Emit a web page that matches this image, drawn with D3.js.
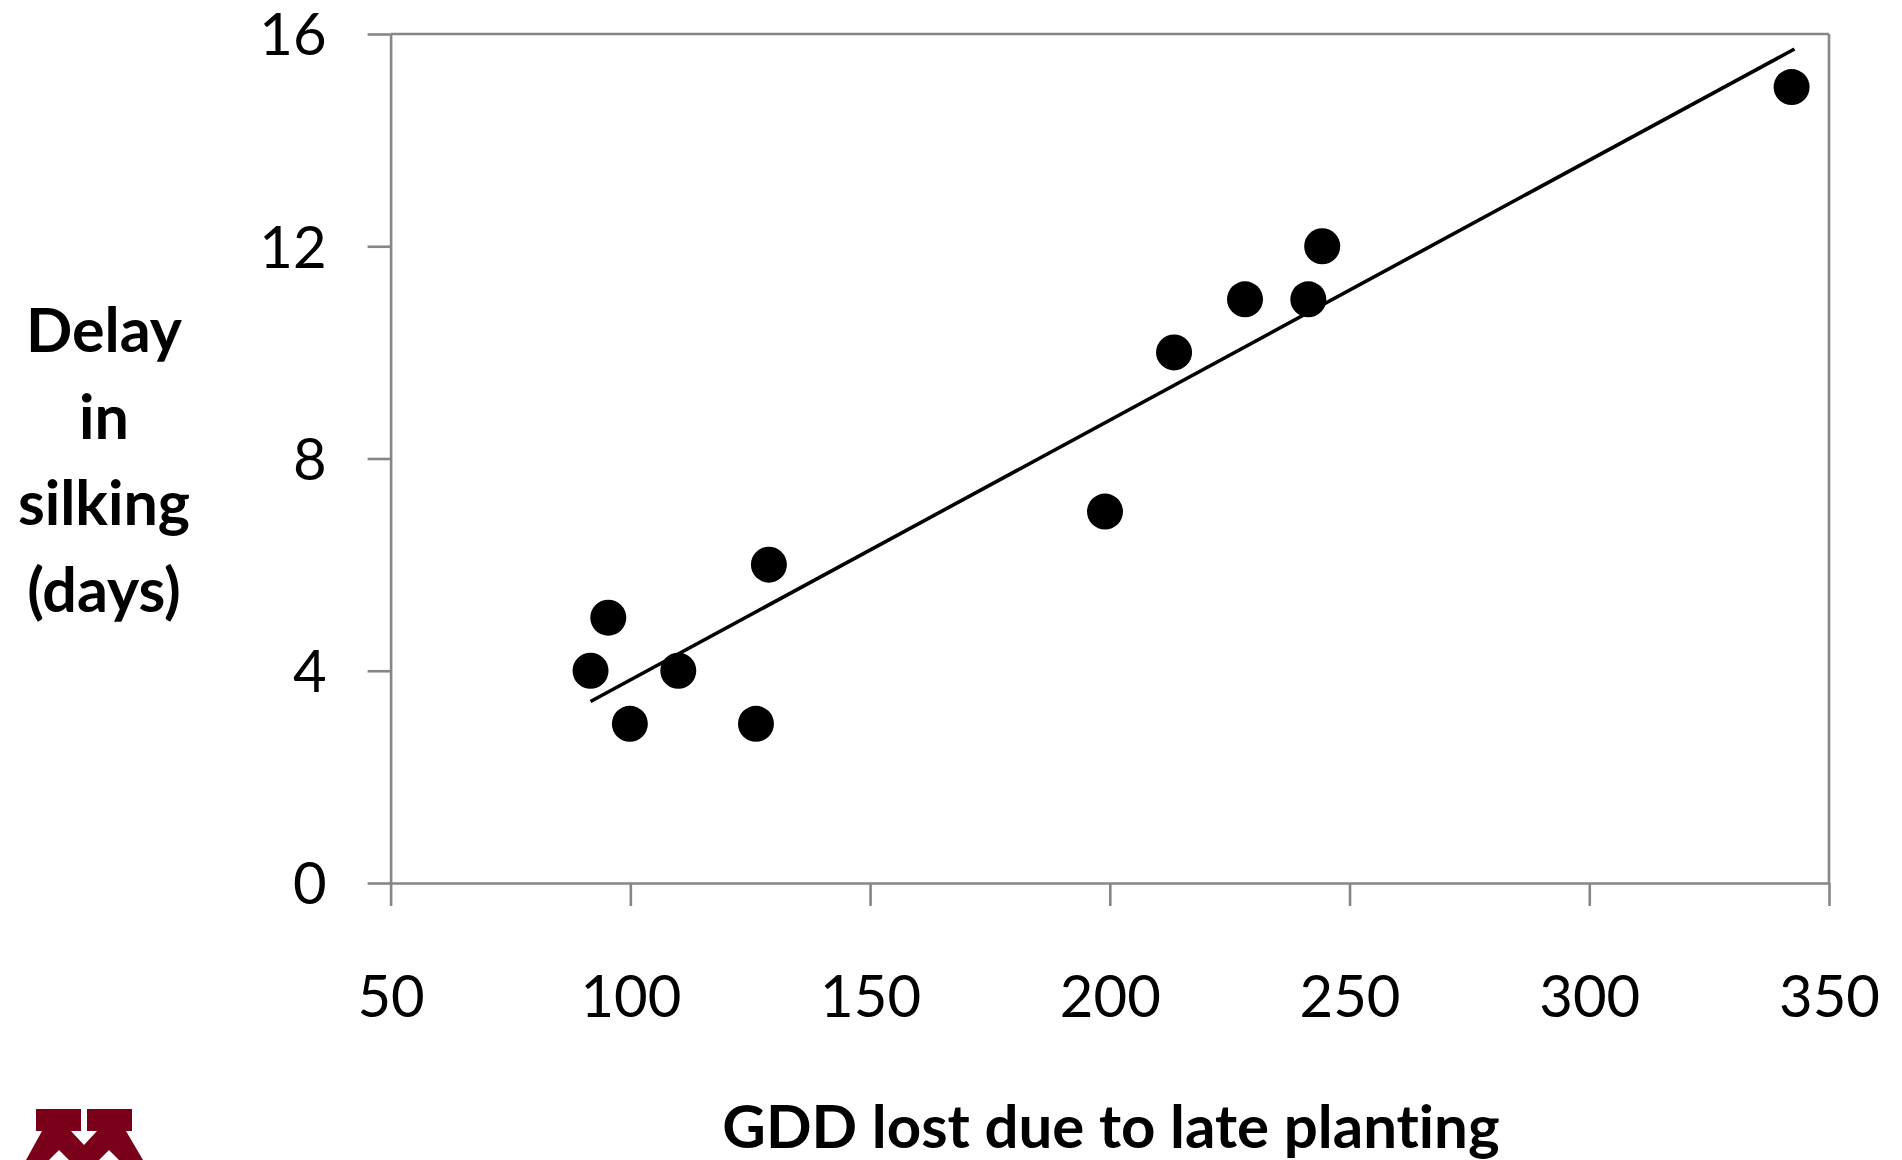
<!DOCTYPE html>
<html>
<head>
<meta charset="utf-8">
<script src="https://cdn.jsdelivr.net/npm/d3@7"></script>
<style>
  html, body { margin: 0; padding: 0; background: #ffffff; }
  svg { display: block; }
  text { font-variant-ligatures: none; font-feature-settings: "liga" 0, "clig" 0; }
</style>
</head>
<body>
<script>
// ---- data ----
const gddLost   = [91.7, 95.4, 99.9, 110.0, 126.2, 128.9, 199.0, 213.4, 228.2, 241.4, 244.3, 342.2];
const delayDays = [4, 5, 3, 4, 3, 6, 7, 10, 11, 11, 12, 15];
const xTicks = [50, 100, 150, 200, 250, 300, 350];
const yTicks = [0, 4, 8, 12, 16];
const xTitle = "GDD lost due to late planting";
const yTitleLines = ["Delay", "in", "silking", "(days)"];

(function () {
const W = 1902, H = 1160;
const svg = d3.select("body").append("svg").attr("width", W).attr("height", H);

const pLeft = 390.6, pRight = 1829, pTop = 34, pBottom = 883;
const x = d3.scaleLinear().domain([50, 350]).range([pLeft, pRight]);
const y = d3.scaleLinear().domain([0, 16]).range([pBottom, pTop]);

const axisColor = "#868686";
const font = "Lato, Calibri, 'Open Sans', sans-serif";

// frame (top and right)
svg.append("line").attr("x1", pLeft).attr("x2", pRight).attr("y1", pTop).attr("y2", pTop)
  .attr("stroke", axisColor).attr("stroke-width", 2.6);
svg.append("line").attr("x1", pRight).attr("x2", pRight).attr("y1", pTop).attr("y2", pBottom)
  .attr("stroke", axisColor).attr("stroke-width", 2.6);

// y axis
const yAxis = svg.append("g").attr("transform", `translate(${pLeft},0)`)
  .call(d3.axisLeft(y).tickValues(yTicks).tickSizeInner(23).tickSizeOuter(0).tickPadding(41).tickFormat(d3.format("d")));
yAxis.selectAll("path.domain").attr("stroke", axisColor).attr("stroke-width", 2.6);
yAxis.selectAll(".tick line").attr("stroke", axisColor).attr("stroke-width", 2.6);
yAxis.selectAll(".tick text").attr("fill", "#000").attr("font-family", font).attr("font-size", 58)
  .attr("dy", "0.36em");

// x axis
const xAxis = svg.append("g").attr("transform", `translate(0,${pBottom})`)
  .call(d3.axisBottom(x).tickValues(xTicks).tickSizeInner(23).tickSizeOuter(0).tickFormat(d3.format("d")));
xAxis.selectAll("path.domain").attr("stroke", axisColor).attr("stroke-width", 2.6);
xAxis.selectAll(".tick line").attr("stroke", axisColor).attr("stroke-width", 2.6);
xAxis.selectAll(".tick text").attr("fill", "#000").attr("font-family", font).attr("font-size", 58)
  .attr("y", 134).attr("dy", 0);

// trend line (least squares fit of the data, spanning the data range)
const pts = gddLost.map((g, i) => ({ x: g, y: delayDays[i] }));
const mx = d3.mean(pts, d => d.x), my = d3.mean(pts, d => d.y);
const slope = d3.sum(pts, d => (d.x - mx) * (d.y - my)) / d3.sum(pts, d => (d.x - mx) ** 2);
const intercept = my - slope * mx;
const ext = d3.extent(gddLost);
const trend = [ext[0], ext[1] + 0.6].map(v => ({ x: v, y: intercept + slope * v }));
svg.append("path").datum(trend)
  .attr("d", d3.line().x(d => x(d.x)).y(d => y(d.y)))
  .attr("stroke", "#000").attr("stroke-width", 3.6).attr("fill", "none");

// points
svg.append("g").selectAll("circle").data(pts).join("circle")
  .attr("cx", d => x(d.x)).attr("cy", d => y(d.y)).attr("r", 18).attr("fill", "#000");

// axis titles
svg.append("text").attr("x", 1111).attr("y", 1148).attr("text-anchor", "middle")
  .attr("font-family", font).attr("font-weight", "bold").attr("font-size", 60).attr("fill", "#000")
  .text(xTitle);

const yt = svg.append("text").attr("text-anchor", "middle")
  .attr("font-family", font).attr("font-weight", "bold").attr("font-size", 61).attr("fill", "#000");
yTitleLines.forEach((t, i) => {
  yt.append("tspan").attr("x", 104).attr("y", 352 + i * 86.7).text(t);
});

// University logo (decorative block M, cut off at bottom)
const logo = svg.append("g").attr("fill", "#7a0019");
logo.append("path").attr("d", "M36,1109H81V1131H36Z M87,1109H132V1131H87Z M42,1131H126L143,1160H26Z");
const holes = svg.append("g").attr("fill", "#ffffff");
holes.append("path").attr("d", "M71,1131H97L84,1145Z M49,1160H69L59,1150Z M99,1160H119L109,1150Z");
})();
</script>
</body>
</html>
